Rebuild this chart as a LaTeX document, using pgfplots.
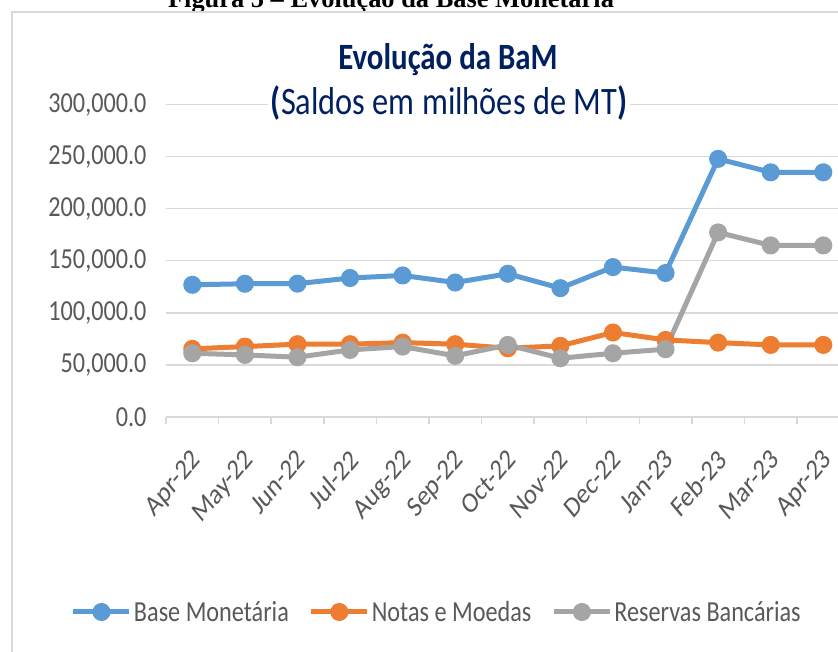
\documentclass[border=0pt]{standalone}
\usepackage{pgfplots}
\pgfplotsset{compat=1.18}
\usepackage{fontspec}
\setmainfont{Carlito}
\newfontfamily\capfont{Liberation Serif}
\definecolor{bmblue}{HTML}{5B9BD5}
\definecolor{nmorange}{HTML}{ED7D31}
\definecolor{rbgray}{HTML}{A5A5A5}
\definecolor{gridgray}{HTML}{D9D9D9}
\definecolor{txtgray}{HTML}{595959}
\definecolor{navy}{HTML}{002060}

\begin{document}
\begin{tikzpicture}[x=1bp,y=1bp]
\clip (0,0) rectangle (838,652);
\fill[white] (0,0) rectangle (838,652);
% caption, cut off by the top edge
\node[anchor=base, inner sep=0pt, font=\capfont\bfseries\fontsize{26.5}{30}\selectfont]
  at (391,644) {Figura 5 – Evolução da Base Monetária};
% chart frame
\draw[gridgray, line width=2bp] (12,-5) -- (12,640) -- (845,640);

\begin{axis}[
  at={(166bp,235bp)}, anchor=south west,
  scale only axis, width=672bp, height=312.5bp,
  xmin=-0.5, xmax=12.28, ymin=0, ymax=300000,
  axis line style={draw=none},
  ymajorgrids, grid style={gridgray, line width=1.5bp},
  ytick={0,50000,100000,150000,200000,250000,300000},
  scaled y ticks=false,
  yticklabel style={/pgf/number format/fixed, /pgf/number format/fixed zerofill,
    /pgf/number format/precision=1, /pgf/number format/1000 sep={,},
    /pgf/number format/assume math mode=true,
    xshift=-16bp, yscale=1.2, text=txtgray, font=\fontsize{24.3}{28}\selectfont},
  xtick={0,...,12},
  xticklabels={Apr-22,May-22,Jun-22,Jul-22,Aug-22,Sep-22,Oct-22,Nov-22,Dec-22,Jan-23,Feb-23,Mar-23,Apr-23},
  % shifts first, so that they are not turned by the rotation
  xticklabel style={xshift=-2bp, yshift=-30bp, yscale=1.2, rotate=45, anchor=north east,
    inner sep=0pt, text=txtgray, font=\fontsize{24.3}{28}\selectfont},
  xtick pos=bottom, ytick pos=left,
  minor xtick={-0.5,0.5,...,11.5},
  major tick length=0pt, minor tick length=7bp, tick align=outside,
  minor x tick style={gridgray, line width=1.5bp},
  ytick style={draw=none},
  clip=false,
  every axis plot/.append style={line width=5bp, mark=*, mark size=6.5bp, mark options={solid}},
  legend image code/.code={\draw[mark repeat=2, mark phase=2, #1]
    plot coordinates {(0bp,0bp) (28bp,0bp) (56bp,0bp)};},
  legend style={at={(0.403,-0.624)}, anchor=center, draw=none, fill=none,
    legend columns=3, font=\fontsize{24.3}{28}\selectfont, text=txtgray,
    /tikz/every even column/.append style={column sep=18bp},
    nodes={inner sep=2bp, yscale=1.2}},
]
\addplot[bmblue] coordinates {
  (0,126900) (1,127900) (2,128000) (3,133400) (4,135900) (5,129100) (6,137500)
  (7,123700) (8,143900) (9,138200) (10,247800) (11,234900) (12,234900)};
\addlegendentry{Base Monetária}
\addplot[nmorange] coordinates {
  (0,65400) (1,67600) (2,69900) (3,69900) (4,71400) (5,69900) (6,66000)
  (7,68300) (8,81100) (9,74000) (10,71400) (11,69200) (12,69200)};
\addlegendentry{Notas e Moedas}
\addplot[rbgray] coordinates {
  (0,61200) (1,59600) (2,57400) (3,64400) (4,67600) (5,58700) (6,69200)
  (7,56400) (8,61200) (9,65100) (10,177200) (11,164700) (12,164700)};
\addlegendentry{Reservas Bancárias}
\end{axis}

\node[yscale=1.2, font=\bfseries\fontsize{31}{36}\selectfont, text=navy] at (448,592) {Evolução da BaM};
\node[yscale=1.2, fill=white, inner sep=3bp, font=\fontsize{32.5}{37}\selectfont, text=navy]
  at (449,549) {\textbf{(}Saldos em milhões de MT\textbf{)}};
\end{tikzpicture}
\end{document}
